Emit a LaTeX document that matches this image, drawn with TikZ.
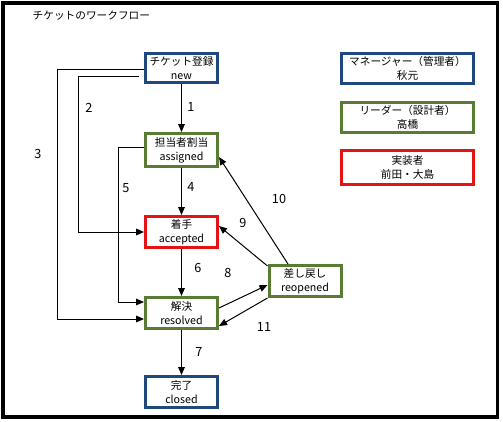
\documentclass[tikz,border=0pt]{standalone}
\usepackage{fontspec}
\setmainfont{Noto Sans CJK JP}
\usetikzlibrary{arrows.meta,calc}

\definecolor{mgrblue}{RGB}{31,73,125}
\definecolor{leadgreen}{RGB}{88,124,52}
\definecolor{implred}{RGB}{228,18,18}

\begin{document}
\begin{tikzpicture}[x=0.75pt, y=0.75pt,
    stbox/.style={draw, line width=2.25pt, minimum width=54pt, minimum height=23.25pt,
                  inner sep=0pt, align=center, font=\fontsize{8}{10.5}\selectfont},
    legbox/.style={stbox, minimum width=99pt, minimum height=22.5pt},
    num/.style={font=\fontsize{9.5}{11}\selectfont},
    arr/.style={-{Triangle[length=6pt,width=5pt]}, line width=0.75pt}]

        \useasboundingbox (0,0) rectangle (503,-421);
        \draw[line width=2.6pt] (3,-3) rectangle (497.5,-417);

        \node[anchor=west, font=\fontsize{8}{10}\selectfont] (title) at (28,-16) {チケットのワークフロー};

        % states
        \node[stbox, draw=mgrblue, minimum height=21.75pt] (new) at (181.5,-68) {チケット登録\\new};
        \node[stbox, draw=leadgreen, minimum height=24.75pt] (assigned) at (181.5,-150) {担当者割当\\assigned};
        \node[stbox, draw=implred] (accepted) at (181.5,-232) {着手\\accepted};
        \node[stbox, draw=leadgreen] (resolved) at (181.5,-313) {解決\\resolved};
        \node[stbox, draw=mgrblue] (closed) at (181.5,-392) {完了\\closed};
        \node[stbox, draw=leadgreen] (reopened) at (305,-281) {差し戻し\\reopened};

        % legend
        \node[legbox, draw=mgrblue] (mgr) at (407.5,-68.5) {マネージャー（管理者）\\秋元};
        \node[legbox, draw=leadgreen] (leader) at (407.5,-117) {リーダー（設計者）\\高橋};
        \node[legbox, draw=implred, minimum height=25.5pt] (impl) at (407.5,-167.5) {実装者\\前田・大島};

        % transitions
        \draw[arr] (new) -- (assigned);
        \draw[arr] (assigned) -- (accepted);
        \draw[arr] (accepted) -- (resolved);
        \draw[arr] (resolved) -- (closed);

        \draw[arr] ($(new.west)+(0,-1)$) -- ++(-87,0) |- ($(resolved.west)+(0,-6)$);
        \draw[arr] ($(new.west)+(-5,-8)$) -- ++(-61,0) |- (accepted.west);
        \draw[arr] ($(assigned.west)+(0,3)$) -- ++(-26,0) |- ($(resolved.west)+(0,11)$);

        \draw[arr] ($(resolved.east)+(0,5)$) -- ($(reopened.west)+(0,-4)$);
        \draw[arr] (reopened.south west) -- ($(resolved.east)+(0,-13)$);
        \draw[arr] ($(reopened.north west)+(0,-2)$) -- ($(accepted.east)+(0,6)$);
        \draw[arr] ($(reopened.north)+(-17,0)$) -- ($(assigned.east)+(0,-7)$);

        % transition numbers
        \foreach \t/\x/\y in {1/191/107, 2/89/108, 3/38/154, 4/191/187, 5/126/188, 6/198/268,
                              7/199/352, 8/228/273, 9/243/223, 10/279/199, 11/264/327} {
            \node[num] (n\t) at (\x,-\y) {\t};
        }

\end{tikzpicture}
\end{document}
